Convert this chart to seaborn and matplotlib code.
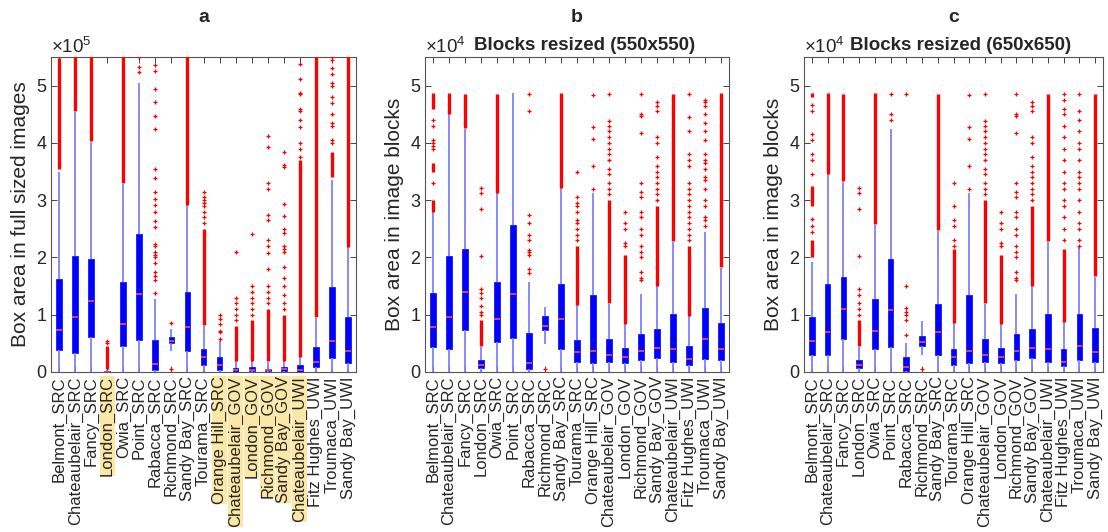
import numpy as np
import pandas as pd
import seaborn as sns
import matplotlib.pyplot as plt

sns.set_style("ticks")
plt.rcParams['font.family'] = ['Liberation Sans', 'DejaVu Sans']
plt.rcParams['mathtext.fontset'] = 'custom'
plt.rcParams['mathtext.rm'] = 'Liberation Sans'

# site names (same order in every panel)
sites = ["Belmont_SRC", "Chateaubelair_SRC", "Fancy_SRC", "London_SRC", "Owia_SRC",
         "Point_SRC", "Rabacca_SRC", "Richmond_SRC", "Sandy Bay_SRC", "Tourama_SRC",
         "Orange Hill_SRC", "Chateaubelair_GOV", "London_GOV", "Richmond_GOV",
         "Sandy Bay_GOV", "Chateaubelair_UWI", "Fitz Hughes_UWI", "Troumaca_UWI",
         "Sandy Bay_UWI"]
highlight_a = ["London_SRC", "Orange Hill_SRC", "Chateaubelair_GOV", "London_GOV",
               "Richmond_GOV", "Sandy Bay_GOV", "Chateaubelair_UWI"]

# panel a: full sized images (x1e5)
a_lo = [0, 0, 0, 0, 0, 0, 0, 0.36, 0, 0, 0, 0, 0, 0, 0, 0, 0, 0, 0]
a_q1 = [0.39, 0.33, 0.61, 0.0, 0.45, 0.555, 0.04, 0.51, 0.36, 0.13, 0.03, 0.005, 0.02, 0.01, 0.02, 0.005, 0.088, 0.245, 0.158]
a_med = [0.725, 0.965, 1.234, 0.005, 0.84, 1.357, 0.146, 0.544, 0.79, 0.263, 0.117, 0.04, 0.04, 0.03, 0.05, 0.04, 0.17, 0.538, 0.374]
a_q3 = [1.62, 2.02, 1.97, 0.02, 1.58, 2.41, 0.567, 0.614, 1.39, 0.40, 0.257, 0.07, 0.09, 0.06, 0.088, 0.12, 0.43, 1.485, 0.96]
a_hi = [3.49, 4.54, 4.02, 0.04, 3.29, 5.05, 1.27, 0.75, 2.91, 0.81, 0.54, 0.19, 0.2, 0.18, 0.19, 0.26, 0.95, 3.35, 2.18]
# runs of outliers so dense they merge into a red strip
a_dense = [[(3.55, 5.48)], [(4.55, 5.6)], [(4.03, 5.6)], [(0.05, 0.45)], [(3.3, 5.6)],
           [], [], [], [(2.92, 5.6)], [(0.82, 2.5)],
           [], [(0.2, 0.8)], [(0.2, 0.9)], [(0.2, 1.1)], [(0.2, 1.0)],
           [(0.27, 3.7)], [(0.96, 5.5)], [(3.4, 3.85)], [(2.19, 5.6)]]
a_sparse = [[], [], [], [0.5, 0.55], [],
            [5.24, 5.32, 5.5],
            [1.38, 1.6, 1.68, 1.74, 1.9, 2.0, 2.05, 2.1, 2.2, 2.23, 2.53, 2.64, 2.79, 2.91, 3.02,
             3.15, 3.39, 3.54, 4.25, 4.47, 4.72, 4.94, 5.26, 5.36],
            [0.05, 0.86], [],
            [2.6, 2.7, 2.8, 2.9, 2.95, 3.0, 3.05, 3.15],
            [0.58, 0.7, 0.72, 0.84, 0.93, 1.0],
            [0.9, 1.0, 1.1, 1.2, 1.3, 2.09],
            [1.0, 1.1, 1.2, 1.3, 1.4, 1.5, 2.41],
            [1.2, 1.3, 1.4, 1.5, 1.8, 2.07, 2.2, 2.3, 2.65, 2.75, 3.2, 3.3, 3.92, 4.12],
            [1.1, 1.2, 1.35, 1.5, 1.65, 1.84, 2.1, 2.15, 2.2, 2.42, 2.5, 2.73, 2.93, 3.58, 3.62, 3.84],
            [3.75, 3.9, 4.0, 4.27, 4.4, 4.55, 4.6, 4.85, 4.87, 5.12, 5.38],
            [],
            [4.0, 4.05, 4.3, 4.35, 4.5, 4.7, 4.8, 5.0, 5.05, 5.2, 5.3, 5.45, 5.5],
            []]

# panel b: blocks resized 550x550 (x1e4)
b_lo = [0, 0, 0, 0, 0, 0, 0, 0.485, 0, 0, 0, 0, 0, 0, 0, 0, 0, 0, 0]
b_q1 = [0.44, 0.40, 0.73, 0.07, 0.526, 0.60, 0.06, 0.74, 0.41, 0.175, 0.158, 0.17, 0.158, 0.205, 0.245, 0.18, 0.117, 0.228, 0.216]
b_med = [0.784, 0.96, 1.40, 0.123, 0.918, 1.36, 0.15, 0.81, 0.924, 0.357, 0.36, 0.30, 0.257, 0.363, 0.415, 0.40, 0.228, 0.573, 0.41]
b_q3 = [1.386, 2.03, 2.15, 0.216, 1.57, 2.57, 0.68, 0.977, 1.53, 0.567, 1.34, 0.575, 0.415, 0.655, 0.754, 1.006, 0.45, 1.11, 0.86]
b_hi = [2.79, 4.5, 4.25, 0.44, 3.12, 4.87, 1.58, 1.14, 3.21, 1.17, 3.12, 1.19, 0.83, 1.37, 1.50, 2.27, 0.977, 2.44, 1.82]
b_dense = [[(2.8, 3.0), (3.5, 3.65), (4.6, 4.87)], [(4.5, 4.88)], [(4.26, 4.85)], [(0.45, 0.9)], [(3.13, 4.85)],
           [], [], [], [(3.22, 4.87)], [(1.17, 2.2)],
           [], [(1.2, 3.0)], [(0.84, 2.05)], [], [(1.5, 2.9)],
           [(2.28, 4.85)], [(0.98, 2.2)], [], [(1.83, 4.88)]]
b_sparse = [[3.3, 3.9, 3.95, 4.0, 4.05, 4.3, 4.4], [], [],
            [1.0, 1.05, 1.15, 1.3, 1.38, 1.45, 2.03, 2.84, 3.13, 3.22], [], [],
            [1.73, 1.80, 2.05, 2.1, 2.13, 2.3, 2.4, 2.6, 2.74, 4.56, 4.85],
            [0.05], [],
            [2.3, 2.4, 2.5, 2.6, 2.65, 2.8, 2.9, 2.95, 3.05, 3.5],
            [3.2, 3.6, 4.07, 4.27, 4.84],
            [3.1, 3.2, 3.3, 3.45, 3.55, 3.7, 3.8, 3.9, 4.0, 4.1, 4.2, 4.3, 4.38, 4.85],
            [2.2, 2.25, 2.5, 2.6, 2.8],
            [1.6, 1.65, 1.75, 2.0, 2.1, 2.2, 2.4, 2.5, 2.7, 2.8, 3.05, 3.15, 3.3, 4.18, 4.47, 4.5, 4.85],
            [3.0, 3.1, 3.2, 3.3, 3.4, 3.5, 3.6, 3.75, 4.0, 4.1, 4.55, 4.65, 4.72],
            [],
            [2.3, 2.4, 2.5, 2.6, 2.7, 2.8, 2.9, 3.0, 3.1, 3.2, 3.3, 3.6, 3.7, 3.8, 4.2, 4.45, 4.85],
            [2.55, 2.65, 2.7, 2.9, 3.0, 3.2, 3.35, 3.4, 3.55, 3.65, 3.7, 3.8, 4.05, 4.2, 4.35, 4.5, 4.65, 4.72, 4.75],
            []]

# panel c: blocks resized 650x650 (x1e4)
c_lo = [0, 0, 0, 0, 0, 0, 0, 0.29, 0, 0, 0, 0, 0, 0, 0, 0, 0, 0, 0]
c_q1 = [0.29, 0.29, 0.58, 0.07, 0.40, 0.43, 0.01, 0.45, 0.30, 0.13, 0.158, 0.17, 0.158, 0.205, 0.245, 0.18, 0.10, 0.216, 0.17]
c_med = [0.55, 0.70, 1.105, 0.123, 0.72, 1.076, 0.082, 0.526, 0.707, 0.257, 0.36, 0.30, 0.257, 0.363, 0.415, 0.40, 0.175, 0.46, 0.345]
c_q3 = [0.965, 1.54, 1.667, 0.216, 1.27, 1.97, 0.263, 0.637, 1.18, 0.41, 1.34, 0.575, 0.42, 0.655, 0.754, 1.006, 0.40, 1.006, 0.76]
c_hi = [1.92, 3.45, 3.32, 0.44, 2.57, 4.25, 0.51, 0.89, 2.47, 0.85, 3.12, 1.19, 0.83, 1.37, 1.50, 2.27, 0.87, 2.18, 1.66]
c_dense = [[(2.0, 2.3), (2.9, 3.25), (4.8, 4.87)], [(3.45, 4.88)], [(3.33, 4.85)], [(0.45, 0.9)], [(2.58, 4.88)],
           [], [], [], [(2.48, 4.85)], [(0.86, 2.15)],
           [], [(1.2, 3.0)], [(0.84, 2.05)], [], [(1.5, 2.9)],
           [(2.28, 4.85)], [(0.88, 2.15)], [], [(1.67, 4.85)]]
c_sparse = [[2.45, 2.55, 2.67, 3.45, 3.7, 3.8, 4.05, 4.16, 4.55, 4.66], [], [],
            [1.0, 1.1, 1.2, 1.35, 1.45, 2.03, 2.84, 3.13, 3.22], [],
            [4.4, 4.5, 4.85],
            [0.65, 0.9, 1.0, 1.05, 1.12, 1.5, 4.85],
            [0.05], [],
            [2.2, 2.3, 2.55, 2.65, 2.9, 3.3],
            [3.2, 3.6, 4.07, 4.27, 4.84],
            [3.1, 3.2, 3.3, 3.45, 3.55, 3.7, 3.8, 3.9, 4.0, 4.1, 4.2, 4.3, 4.38, 4.85],
            [2.2, 2.25, 2.5, 2.6, 2.8],
            [1.6, 1.65, 1.75, 2.0, 2.1, 2.2, 2.4, 2.5, 2.7, 2.8, 3.05, 3.15, 3.3, 4.18, 4.47, 4.5, 4.85],
            [3.0, 3.1, 3.2, 3.3, 3.4, 3.5, 3.6, 3.75, 4.0, 4.1, 4.55, 4.65, 4.72],
            [],
            [2.3, 2.5, 2.7, 2.9, 3.0, 3.2, 3.3, 3.5, 3.7, 3.9, 4.1, 4.3, 4.5, 4.6, 4.75, 4.85],
            [2.2, 2.3, 2.5, 2.6, 2.8, 3.0, 3.2, 3.3, 3.4, 3.5, 3.7, 3.9, 4.0, 4.2, 4.4, 4.55, 4.85],
            []]

ink = "#262626"


def draw_panel(ax, lo, q1, med, q3, hi, dense, sparse, exponent, ylabel, letter, subtitle):
    # five numbers per site -> boxplot with whiskers at min/max gives exact quartiles
    df = pd.DataFrame({"site": np.repeat(sites, 5),
                       "value": np.column_stack([lo, q1, med, q3, hi]).ravel()})
    sns.boxplot(data=df, x="site", y="value", order=sites, whis=(0, 100), width=0.36,
                color="blue", saturation=1, showcaps=False, ax=ax,
                boxprops=dict(facecolor="blue", edgecolor="blue", linewidth=0.5),
                medianprops=dict(color="#ff5a5a", linewidth=1.1),
                whiskerprops=dict(color="#8080ff", linewidth=1.3))

    # outliers
    for i, runs in enumerate(dense):
        for y0, y1 in runs:
            ax.vlines(i, y0, y1, color="red", linewidth=2.4, zorder=3)
    for i, pts in enumerate(sparse):
        if pts:
            ax.plot([i] * len(pts), pts, "+", color="red", ms=3.5, mew=0.9, zorder=3)

    ax.set_xlim(-0.5, len(sites) - 0.5)
    ax.set_ylim(0, 5.5)
    ax.set_yticks([0, 1, 2, 3, 4, 5])
    ax.set_xlabel("")
    ax.set_ylabel(ylabel, fontsize=15, color=ink, labelpad=4)
    ax.tick_params(direction="in", top=True, right=True, length=4, width=0.6,
                   colors=ink, labelsize=13)
    ax.tick_params(axis="x", labelrotation=90, pad=3, labelsize=12)
    for sp in ax.spines.values():
        sp.set_color("#555555")
        sp.set_linewidth(0.8)

    ax.text(0.0, 1.012, r"$\times10^{%d}$" % exponent, transform=ax.transAxes,
            ha="left", va="baseline", fontsize=13.5, color=ink)
    ax.text(0.5, 1.124, letter, transform=ax.transAxes, ha="center", va="center",
            fontsize=14, fontweight="bold")
    if subtitle:
        ax.text(0.525, 1.038, subtitle, transform=ax.transAxes, ha="center", va="center",
                fontsize=13.5, fontweight="bold")


fig = plt.figure(figsize=(11.08, 5.32), dpi=100)
ax_a = fig.add_axes([51 / 1108, 160 / 532, 305 / 1108, 315 / 532])
ax_b = fig.add_axes([425 / 1108, 160 / 532, 304 / 1108, 315 / 532])
ax_c = fig.add_axes([804 / 1108, 160 / 532, 299 / 1108, 315 / 532])

draw_panel(ax_a, a_lo, a_q1, a_med, a_q3, a_hi, a_dense, a_sparse, 5,
           "Box area in full sized images", "a", "")
draw_panel(ax_b, b_lo, b_q1, b_med, b_q3, b_hi, b_dense, b_sparse, 4,
           "Box area in image blocks", "b", "Blocks resized (550x550)")
draw_panel(ax_c, c_lo, c_q1, c_med, c_q3, c_hi, c_dense, c_sparse, 4,
           "Box area in image blocks", "c", "Blocks resized (650x650)")

# yellow marks on the sites highlighted in panel a
for lbl in ax_a.get_xticklabels():
    if lbl.get_text() in highlight_a:
        lbl.set_bbox(dict(facecolor="#fce8a6", edgecolor="none", pad=0))

fig.savefig("out.png", dpi=100)
